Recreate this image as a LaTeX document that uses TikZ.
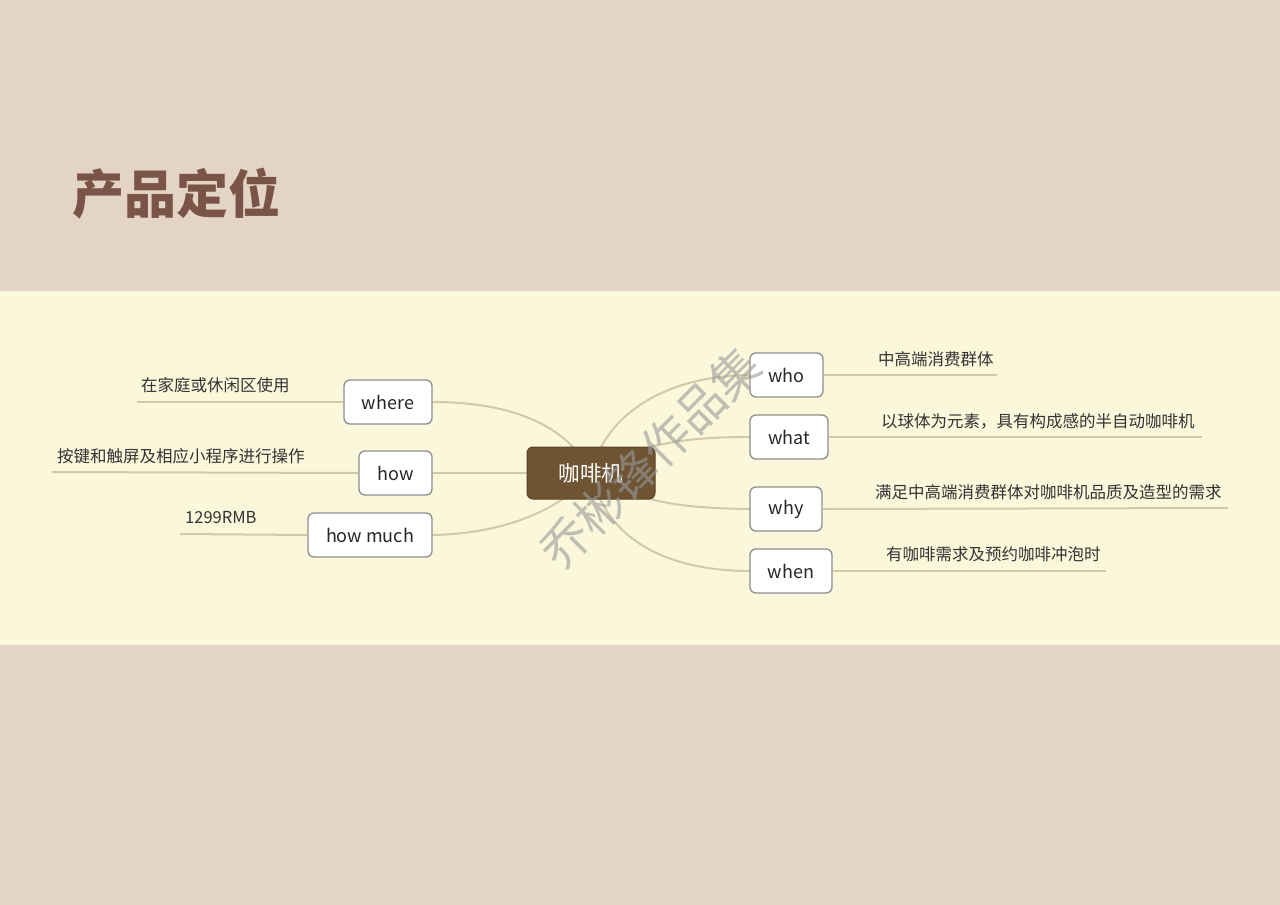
\documentclass[tikz,border=0pt]{standalone}
\usepackage{fontspec}
\setmainfont{Noto Sans CJK SC}
\newfontfamily\cjk{Noto Sans CJK SC}
\usetikzlibrary{positioning}
\definecolor{bandtop}{HTML}{E3D4C5}
\definecolor{bandmid}{HTML}{FAF7DB}
\definecolor{titlec}{HTML}{7A5547}
\definecolor{corefill}{HTML}{6E5433}
\definecolor{coreline}{HTML}{5C4429}
\definecolor{linkc}{HTML}{D2CAA6}
\definecolor{boxline}{HTML}{8E8E8E}
\definecolor{txt}{HTML}{333333}
\tikzset{
  branchbox/.style={draw=boxline, line width=1.3pt, fill=white, rounded corners=6pt,
    minimum height=44pt, inner sep=0pt, font=\fontsize{18}{20}\selectfont, text=black!85},
  leaftext/.style={anchor=west, inner sep=0pt, font=\fontsize{16.5}{18}\selectfont, text=txt},
  link/.style={draw=linkc, line width=2pt},
  leafline/.style={draw=linkc, line width=2pt},
}
\begin{document}
\begin{tikzpicture}[x=1pt,y=-1pt]
\useasboundingbox (0,0) rectangle (1280,905);
\fill[bandtop] (0,0) rectangle (1280,905);
\fill[bandmid] (0,291) rectangle (1280,645);
\node[anchor=west, inner sep=0pt, text=titlec, font=\fontsize{52}{56}\selectfont\bfseries] (title) at (72,194) {产品定位};

\coordinate (c) at (591,473);
% branch node positions
\coordinate (pwhere) at (388,402);
\coordinate (phow) at (395.5,473);
\coordinate (phowmuch) at (370,535);
\coordinate (pwho) at (786.5,375);
\coordinate (pwhat) at (789,437);
\coordinate (pwhy) at (786,509);
\coordinate (pwhen) at (791,571);

% connectors centre -> branches (drawn first, boxes cover their ends)
\draw[link] (pwhere) ++(44,0) .. controls (520,402) and (570,430) .. (c);
\draw[link] (phow) -- (c);
\draw[link] (phowmuch) ++(62,0) .. controls (500,534) and (560,512) .. (c);
\draw[link] (c) .. controls (608,405) and (680,375) .. ([xshift=-36.5pt]pwho);
\draw[link] (c) .. controls (640,442) and (690,437) .. ([xshift=-39pt]pwhat);
\draw[link] (c) .. controls (640,505) and (690,508) .. ([xshift=-36pt]pwhy);
\draw[link] (c) .. controls (608,548) and (680,571) .. ([xshift=-41pt]pwhen);

% branch nodes
\node[branchbox, minimum width=88pt] (where) at (pwhere) {where};
\node[branchbox, minimum width=73pt] (how) at (phow) {how};
\node[branchbox, minimum width=124pt] (howmuch) at (phowmuch) {how much};
\node[branchbox, minimum width=73pt] (who) at (pwho) {who};
\node[branchbox, minimum width=78pt] (what) at (pwhat) {what};
\node[branchbox, minimum width=72pt] (why) at (pwhy) {why};
\node[branchbox, minimum width=82pt] (when) at (pwhen) {when};

% centre node
\node[draw=coreline, line width=1pt, fill=corefill, rounded corners=6pt, minimum width=128pt, minimum height=52pt,
  inner sep=0pt, text=white, font=\fontsize{21.5}{24}\selectfont] (core) at (c) {咖啡机};

% leaf lines
\coordinate (whereEnd) at (137,402);
\coordinate (howEnd) at (52,472);
\coordinate (howmuchEnd) at (180,534);
\coordinate (whoEnd) at (997,375);
\coordinate (whatEnd) at (1202,437);
\coordinate (whyEnd) at (1228,508);
\coordinate (whenEnd) at (1106,571);
\draw[leafline] (where.west) -- (whereEnd);
\draw[leafline] (how.west) -- (howEnd);
\draw[leafline] (howmuch.west) -- (howmuchEnd);
\draw[leafline] (who.east) -- (whoEnd);
\draw[leafline] (what.east) -- (whatEnd);
\draw[leafline] (why.east) -- (whyEnd);
\draw[leafline] (when.east) -- (whenEnd);

% leaf texts
\node[leaftext] (t1) at (141,385) {在家庭或休闲区使用};
\node[leaftext] (t2) at (57,456) {按键和触屏及相应小程序进行操作};
\node[leaftext] (t3) at (185,518) {1299RMB};
\node[leaftext] (t4) at (878,359) {中高端消费群体};
\node[leaftext] (t5) at (881,421) {以球体为元素，具有构成感的半自动咖啡机};
\node[leaftext] (t6) at (875,492) {满足中高端消费群体对咖啡机品质及造型的需求};
\node[leaftext] (t7) at (886,554) {有咖啡需求及预约咖啡冲泡时};

% watermark
\node[rotate=45, text=black!40, opacity=0.6, inner sep=0pt, font=\fontsize{48}{52}\selectfont] (wm) at (650,458) {乔彬锋作品集};
\end{tikzpicture}
\end{document}
